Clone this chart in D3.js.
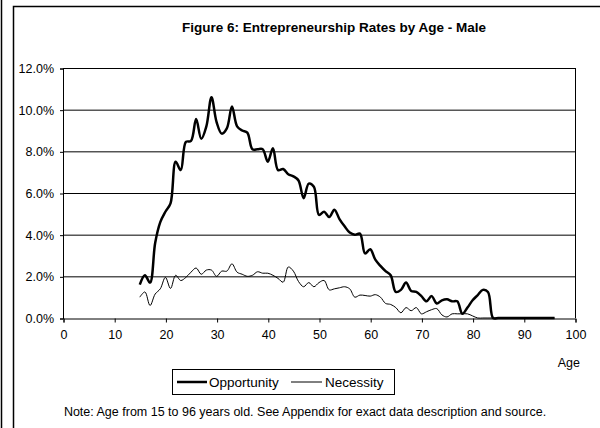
<!DOCTYPE html>
<html>
<head>
<meta charset="utf-8">
<script src="https://cdn.jsdelivr.net/npm/d3@7"></script>
<style>
  body { margin: 0; background: #fff; }
  svg { display: block; font-family: Arial, "Liberation Sans", sans-serif; }
</style>
</head>
<body>
<div id="chart"></div>
<script>
// ages 15..96, one value per year (percent)
var ages = d3.range(15, 97)
var opportunity = [
  1.6, 2.05, 1.7, 3.6, 4.6, 5.1, 5.5, 7.5, 7.1, 8.45,   // 15-24
  8.5, 9.55, 8.6, 9.2, 10.6, 9.4, 8.85, 9.1, 10.15, 9.2, // 25-34
  9.0, 8.9, 8.1, 8.1, 8.1, 7.5, 8.15, 7.1, 7.15, 6.9,    // 35-44
  6.8, 6.6, 5.75, 6.45, 6.3, 4.95, 5.1, 4.85, 5.2, 4.75, // 45-54
  4.4, 4.1, 4.0, 4.05, 3.1, 3.3, 2.8, 2.5, 2.25, 2.05,   // 55-64
  1.25, 1.35, 1.7, 1.3, 1.25, 1.05, 0.8, 1.05, 0.7, 0.85,// 65-74
  0.9, 0.8, 0.8, 0.2, 0.5, 0.85, 1.1, 1.35, 1.25, 0,     // 75-84
  0, 0, 0, 0, 0, 0, 0, 0, 0, 0, 0, 0                     // 85-96
]
var necessity = [
  1.0, 1.25, 0.6, 1.15, 1.4, 1.95, 1.42, 2.05, 1.8, 1.95,
  2.2, 2.4, 2.1, 2.3, 2.3, 2.0, 2.25, 2.25, 2.6, 2.2,
  2.1, 2.0, 2.05, 2.22, 2.15, 2.15, 2.05, 1.9, 1.72, 2.45,
  2.25, 1.75, 1.5, 1.7, 1.5, 1.7, 1.8, 1.35, 1.4, 1.45,
  1.5, 1.4, 1.0, 1.1, 1.08, 1.05, 1.12, 1.0, 0.7, 0.65,
  0.5, 0.25, 0.5, 0.35, 0.5, 0.2, 0.3, 0.4, 0.45, 0.15,
  0.05, 0.2, 0.2, 0.2, 0.2, 0.1, 0, 0, 0, 0,
  0, 0, 0, 0, 0, 0, 0, 0, 0, 0, 0, 0
]
var xTicks = d3.range(0, 101, 10)
var yTicks = [0, 2, 4, 6, 8, 10, 12]
var title = 'Figure 6: Entrepreneurship Rates by Age - Male'
var note = 'Note: Age from 15 to 96 years old. See Appendix for exact data description and source.'

var W = 600, H = 428
var svg = d3.select('#chart').append('svg').attr('width', W).attr('height', H)

// outer frames
svg.append('line').attr('x1', 1.5).attr('x2', 1.5).attr('y1', 0).attr('y2', H)
  .attr('stroke', '#000').attr('stroke-width', 1.5)
svg.append('rect').attr('x', 13.5).attr('y', 6.5).attr('width', W).attr('height', H)
  .attr('fill', 'none').attr('stroke', '#000').attr('stroke-width', 1.5)

svg.append('text').attr('x', 334).attr('y', 32).attr('text-anchor', 'middle')
  .attr('font-size', 13.5).attr('font-weight', 'bold').text(title)

var x = d3.scaleLinear().domain([0, 100]).range([63, 575])
var y = d3.scaleLinear().domain([0, 12]).range([318, 68])

// gridlines
svg.append('g').selectAll('line').data(yTicks.filter(function(d) { return d > 0 }))
  .join('line')
  .attr('x1', x(0)).attr('x2', x(100))
  .attr('y1', function(d) { return y(d) + 0.5 }).attr('y2', function(d) { return y(d) + 0.5 })
  .attr('stroke', '#000').attr('stroke-width', 1)

svg.append('line').attr('x1', x(100) + 0.5).attr('x2', x(100) + 0.5)
  .attr('y1', y(12)).attr('y2', y(0)).attr('stroke', '#000')

var yAxis = svg.append('g').attr('transform', 'translate(' + x(0) + ',0.5)')
  .call(d3.axisLeft(y).tickValues(yTicks).tickSize(3).tickPadding(6)
    .tickFormat(function(d) { return d.toFixed(1) + '%' }))
var xAxis = svg.append('g').attr('transform', 'translate(0.5,' + (y(0) + 0.5) + ')')
  .call(d3.axisBottom(x).tickValues(xTicks).tickSize(4).tickPadding(8))
;[yAxis, xAxis].forEach(function(g) {
  g.select('.domain').attr('stroke', '#000')
  g.selectAll('line').attr('stroke', '#000')
  g.selectAll('text').attr('font-size', 12.5).attr('font-family', 'Arial, "Liberation Sans", sans-serif').attr('fill', '#000')
})

svg.append('text').attr('x', 580).attr('y', 367).attr('text-anchor', 'end')
  .attr('font-size', 12.5).text('Age')

var line = function(vals) {
  return d3.line()
    .x(function(d, i) { return x(ages[i]) })
    .y(function(d) { return y(d) })
    .curve(d3.curveCatmullRom.alpha(0.5))(vals)
}
svg.append('path').attr('d', line(necessity)).attr('fill', 'none')
  .attr('stroke', '#000').attr('stroke-width', 1)
svg.append('path').attr('d', line(opportunity)).attr('fill', 'none')
  .attr('stroke', '#000').attr('stroke-width', 2.5).attr('stroke-linejoin', 'round')

// legend
var lg = svg.append('g')
lg.append('rect').attr('x', 172.5).attr('y', 369.5).attr('width', 222).attr('height', 25)
  .attr('fill', '#fff').attr('stroke', '#000')
lg.append('line').attr('x1', 177).attr('x2', 207).attr('y1', 382).attr('y2', 382)
  .attr('stroke', '#000').attr('stroke-width', 2.5)
lg.append('text').attr('x', 209).attr('y', 387).attr('font-size', 13.5).text('Opportunity')
lg.append('line').attr('x1', 291).attr('x2', 322).attr('y1', 382).attr('y2', 382)
  .attr('stroke', '#000').attr('stroke-width', 1)
lg.append('text').attr('x', 325).attr('y', 387).attr('font-size', 13.5).text('Necessity')

svg.append('text').attr('x', 305).attr('y', 416).attr('text-anchor', 'middle')
  .attr('font-size', 12.5).text(note)
</script>
</body>
</html>
